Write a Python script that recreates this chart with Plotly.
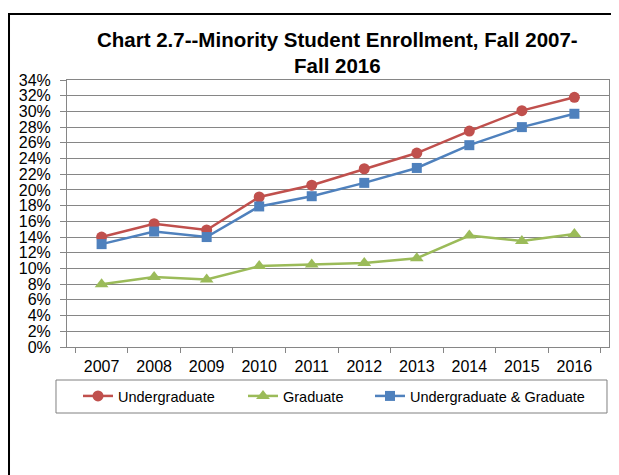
import plotly.graph_objects as go

# Data
YEARS = ["2007", "2008", "2009", "2010", "2011", "2012", "2013", "2014", "2015", "2016"]
UNDERGRAD = [14.0, 15.7, 14.9, 19.1, 20.6, 22.7, 24.7, 27.5, 30.1, 31.8]
GRADUATE = [8.0, 8.9, 8.6, 10.3, 10.5, 10.7, 11.3, 14.2, 13.5, 14.4]
COMBINED = [13.1, 14.7, 14.0, 17.9, 19.2, 20.9, 22.8, 25.7, 28.0, 29.7]

SERIES = [
    ("Undergraduate", UNDERGRAD, "#C0504D", "circle", 11, 120),
    ("Graduate", GRADUATE, "#9BBB59", "triangle-up", 12, 82),
    ("Undergraduate & Graduate", COMBINED, "#4F81BD", "square", 10, 190),
]

FONT = "Liberation Sans, Arial, sans-serif"
GRID = "#868686"

fig = go.Figure()
for name, vals, color, symbol, size, lw in SERIES:
    fig.add_trace(go.Scatter(
        x=YEARS,
        y=[v / 100 for v in vals],
        name=name,
        mode="lines+markers",
        line=dict(color=color, width=2.5),
        marker=dict(symbol=symbol, size=size, color=color),
        legendwidth=lw,
    ))

# Outer black chart border (paper coords relative to plot area)
fig.add_shape(type="rect", xref="paper", yref="paper",
              x0=-0.107, x1=1.05, y0=-0.6, y1=1.247,
              line=dict(color="black", width=2), fillcolor="rgba(0,0,0,0)",
              layer="below")
# Legend frame
fig.add_shape(type="rect", xref="paper", yref="paper",
              x0=-0.0203, x1=0.9963, y0=-0.2472, y1=-0.1236,
              line=dict(color="#808080", width=1), fillcolor="rgba(0,0,0,0)",
              layer="below")

fig.update_layout(
    width=611, height=467,
    margin=dict(l=59, r=10, t=72, b=128, autoexpand=False),
    paper_bgcolor="white",
    plot_bgcolor="white",
    font=dict(family=FONT, color="black", size=15),
    title=dict(
        text="<b>Chart 2.7--Minority Student Enrollment, Fall 2007-<br>Fall 2016</b>",
        x=0.539, xanchor="center", xref="container",
        y=0.917, yanchor="middle", yref="container",
        font=dict(family=FONT, size=20.5, color="black"),
    ),
    showlegend=True,
    legend=dict(
        orientation="h",
        x=0.0203, xanchor="left",
        y=-0.1236, yanchor="top",
        bgcolor="rgba(0,0,0,0)",
        borderwidth=0,
        font=dict(family=FONT, size=14.5),
    ),
    xaxis=dict(
        type="category",
        automargin=False,
        showgrid=False,
        showline=True, linecolor=GRID, linewidth=1, mirror=True,
        ticks="outside", tickson="boundaries", ticklen=5, tickcolor=GRID,
        ticklabelstandoff=5,
        tickfont=dict(family=FONT, size=16),
    ),
    yaxis=dict(
        range=[0, 0.34],
        dtick=0.02,
        tickformat=".0%",
        automargin=False,
        showgrid=True, gridcolor=GRID, gridwidth=1,
        showline=True, linecolor=GRID, linewidth=1, mirror=True,
        ticks="outside", ticklen=6, tickcolor=GRID,
        ticklabelstandoff=6,
        tickfont=dict(family=FONT, size=16),
        zeroline=False,
    ),
)

fig.write_html("out.html")
